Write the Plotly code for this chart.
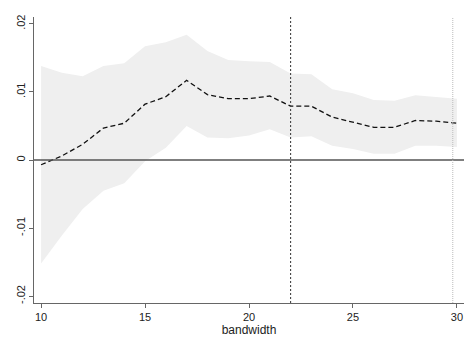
import plotly.graph_objects as go

bandwidth = list(range(10, 31))
estimate = [-0.0007, 0.0006, 0.0023, 0.0047, 0.0054, 0.0082, 0.0093, 0.0117, 0.0096, 0.0090, 0.0090,
            0.0094, 0.0079, 0.0079, 0.0063, 0.0056, 0.0048, 0.0048, 0.0058, 0.0057, 0.0054]
upper = [0.0138, 0.0128, 0.0123, 0.0138, 0.0142, 0.0167, 0.0173, 0.0184, 0.0160, 0.0147, 0.0145,
         0.0144, 0.0127, 0.0126, 0.0104, 0.0098, 0.0088, 0.0087, 0.0095, 0.0093, 0.0090]
lower = [-0.0152, -0.0111, -0.0072, -0.0045, -0.0034, -0.0002, 0.0018, 0.0050, 0.0033, 0.0032, 0.0036,
         0.0045, 0.0033, 0.0035, 0.0021, 0.0016, 0.0009, 0.0009, 0.0021, 0.0021, 0.0019]
x_ticks = [10, 15, 20, 25, 30]
y_ticks = [-0.02, -0.01, 0, 0.01, 0.02]
y_tick_labels = ["-.02", "-.01", "0", ".01", ".02"]
chosen_bw = 22
max_bw = 29.8

fig = go.Figure()
fig.add_trace(go.Scatter(x=bandwidth, y=lower, mode="lines", line=dict(width=0, color="#efefef"),
                         showlegend=False, hoverinfo="skip"))
fig.add_trace(go.Scatter(x=bandwidth, y=upper, mode="lines", line=dict(width=0, color="#efefef"),
                         fill="tonexty", fillcolor="#efefef", showlegend=False, hoverinfo="skip"))

fig.add_shape(type="line", xref="paper", yref="y", x0=0, x1=1, y0=0, y1=0,
              line=dict(color="#555555", width=1.3), layer="above")
fig.add_shape(type="line", xref="x", yref="paper", x0=chosen_bw, x1=chosen_bw, y0=0, y1=1,
              line=dict(color="#444444", width=1.1, dash="2px,2px"), layer="above")
fig.add_shape(type="line", xref="x", yref="paper", x0=max_bw, x1=max_bw, y0=0, y1=1,
              line=dict(color="#bbbbbb", width=1, dash="1px,1px"), layer="above")

fig.add_trace(go.Scatter(x=bandwidth, y=estimate, mode="lines",
                         line=dict(color="#111111", width=1.3, dash="5px,3px"), showlegend=False))

fig.update_layout(
    width=470, height=340,
    margin=dict(l=34, r=6, t=17, b=35),
    paper_bgcolor="white", plot_bgcolor="white",
    font=dict(family="Liberation Sans, Arial", size=11, color="#222222"),
    xaxis=dict(range=[9.66, 30.34], tickvals=x_ticks, showgrid=False, zeroline=False,
               showline=True, linecolor="#666666", linewidth=1.2, ticks="outside", ticklen=4,
               tickcolor="#666666", title=dict(text="bandwidth", font=dict(size=12), standoff=2)),
    yaxis=dict(range=[-0.021, 0.021], tickvals=y_ticks, ticktext=y_tick_labels, tickangle=-90,
               showgrid=False, zeroline=False, showline=True, linecolor="#666666", linewidth=1.2,
               ticks="outside", ticklen=4, tickcolor="#666666"),
)

fig.write_html("out.html")
